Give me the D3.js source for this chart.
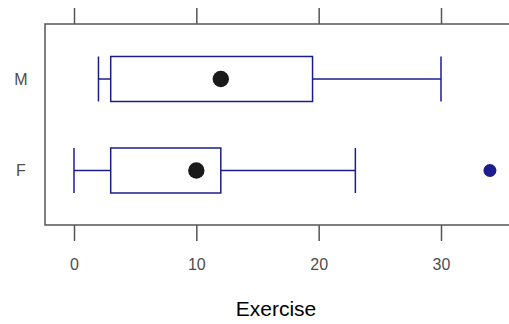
<!DOCTYPE html>
<html><head><meta charset="utf-8">
<script src="https://cdn.jsdelivr.net/npm/d3@7"></script>
<style>body{margin:0;background:#fff}</style>
</head><body>
<svg id="c" width="509" height="324"></svg>
<script>
const groups = ["M", "F"];
const whiskerLow = [2, 0];
const q1 = [3, 3];
const median = [12, 10];
const q3 = [19.5, 12];
const whiskerHigh = [30, 23];
const outliers = [[], [34]];
const xTicks = [0, 10, 20, 30];
const xTitle = "Exercise";

const svg = d3.select("#c");
const pLeft = 45, pTop = 24, pBottom = 225, pRight = 560;
const x = d3.scaleLinear().domain([0, 30]).range([74, 441]);
const yc = d3.scalePoint().domain(groups).range([79, 170.5]);
const boxH = 45;
const axisCol = "#555555";
const boxCol = "#1c1c8c";
const font = "Liberation Sans, Arial, sans-serif";

// frame
svg.append("rect").attr("x", pLeft).attr("y", pTop).attr("width", pRight - pLeft).attr("height", pBottom - pTop)
  .attr("fill", "none").attr("stroke", axisCol).attr("stroke-width", 1.5);

// ticks bottom
const bAxis = d3.axisBottom(x).tickValues(xTicks).tickSize(16).tickPadding(18);
const gb = svg.append("g").attr("transform", `translate(0,${pBottom})`).call(bAxis);
gb.attr("font-size", null).attr("font-family", null);
gb.select(".domain").remove();
gb.selectAll("line").attr("stroke", axisCol).attr("stroke-width", 1.5);
gb.selectAll("text").attr("fill", "#4d4d4d").style("font-size", "16px").style("font-family", font);

// ticks top
const tAxis = d3.axisTop(x).tickValues(xTicks).tickSize(16).tickFormat("");
const gt = svg.append("g").attr("transform", `translate(0,${pTop})`).call(tAxis);
gt.select(".domain").remove();
gt.selectAll("line").attr("stroke", axisCol).attr("stroke-width", 1.5);

// y labels
svg.selectAll(".ylab").data(groups).enter().append("text")
  .attr("x", 21).attr("y", d => yc(d)).attr("dy", "0.35em").attr("text-anchor", "middle")
  .attr("fill", "#4d4d4d").style("font-size", "16px").style("font-family", font)
  .text(d => d);

// boxes
groups.forEach((g, i) => {
  const cy = yc(g);
  const gg = svg.append("g").attr("stroke", boxCol).attr("stroke-width", 1.5).attr("fill", "none");
  gg.append("rect").attr("x", x(q1[i])).attr("y", cy - boxH / 2).attr("width", x(q3[i]) - x(q1[i])).attr("height", boxH);
  gg.append("line").attr("x1", x(whiskerLow[i])).attr("x2", x(q1[i])).attr("y1", cy).attr("y2", cy);
  gg.append("line").attr("x1", x(q3[i])).attr("x2", x(whiskerHigh[i])).attr("y1", cy).attr("y2", cy);
  [whiskerLow[i], whiskerHigh[i]].forEach(v => {
    gg.append("line").attr("x1", x(v)).attr("x2", x(v)).attr("y1", cy - boxH / 2).attr("y2", cy + boxH / 2);
  });
  svg.append("circle").attr("cx", x(median[i])).attr("cy", cy).attr("r", 8.2).attr("fill", "#1a1a1a");
  outliers[i].forEach(v => {
    svg.append("circle").attr("cx", x(v)).attr("cy", cy).attr("r", 6.5).attr("fill", boxCol);
  });
});

// title
svg.append("text").attr("x", 276).attr("y", 309).attr("dy", "0.35em").attr("text-anchor", "middle")
  .style("font-size", "21px").attr("fill", "#000").style("font-family", font).text(xTitle);
</script>
</body></html>
